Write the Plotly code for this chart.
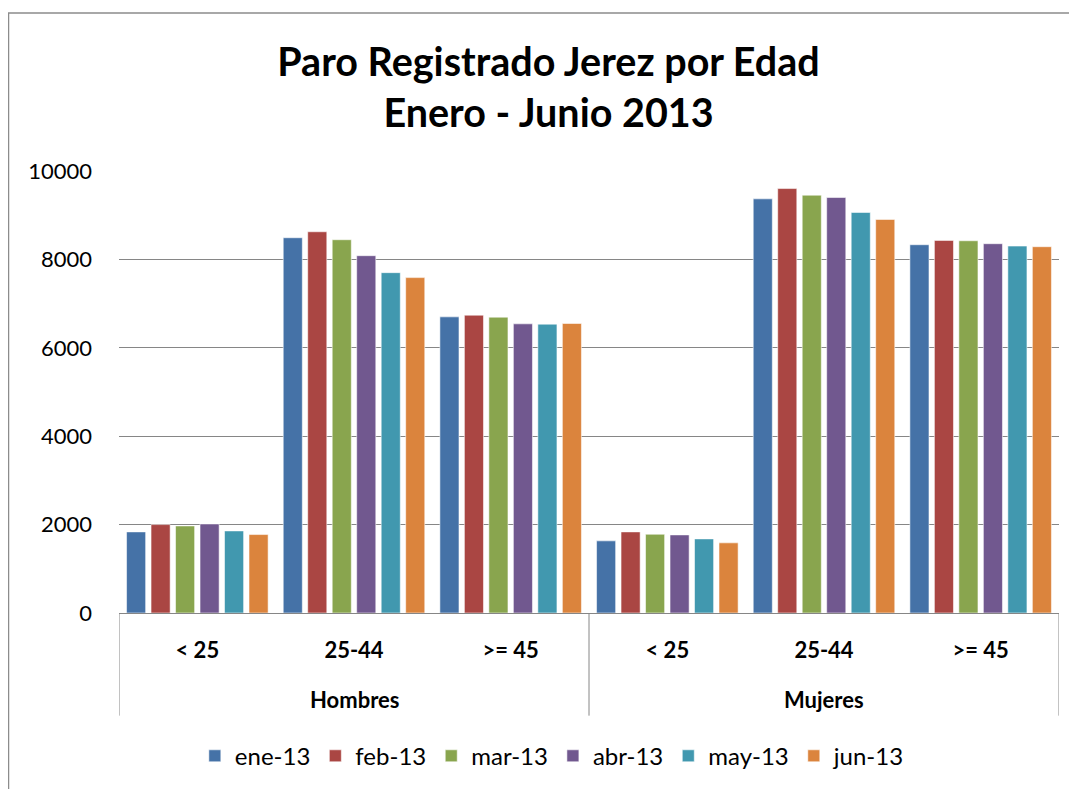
import plotly.graph_objects as go

sexes = ["Hombres", "Mujeres"]
ages = ["< 25", "25-44", ">= 45"]
months = ["ene-13", "feb-13", "mar-13", "abr-13", "may-13", "jun-13"]

# values per month: [H <25, H 25-44, H >=45, M <25, M 25-44, M >=45]
ene_13 = [1835, 8490, 6700, 1632, 9370, 8332]
feb_13 = [2000, 8625, 6738, 1835, 9603, 8430]
mar_13 = [1970, 8445, 6693, 1782, 9453, 8422]
abr_13 = [2015, 8084, 6542, 1767, 9400, 8355]
may_13 = [1857, 7700, 6535, 1677, 9062, 8302]
jun_13 = [1775, 7588, 6550, 1587, 8904, 8287]

series = [ene_13, feb_13, mar_13, abr_13, may_13, jun_13]
colors = ["#4572A7", "#AA4643", "#89A54E", "#71588F", "#4198AF", "#DB843D"]

# one unique category per (sex, age) pair; ticks show the age, annotations the sex
cats = [f"{s} | {a}" for s in sexes for a in ages]
inner_text = [a for _ in sexes for a in ages]

FONT = "Lato"
W, H = 1069, 781
L, T, R, B = 111, 163, 18, 174.5
PH = H - T - B  # plot height in px

fig = go.Figure()
for name, vals, col in zip(months, series, colors):
    fig.add_trace(go.Bar(
        x=cats, y=vals, name=name,
        marker=dict(color=col, line=dict(color="rgba(255,255,255,0.55)", width=1)),
    ))

fig.update_layout(
    width=W, height=H,
    paper_bgcolor="white", plot_bgcolor="white",
    margin=dict(l=L, r=R, t=T, b=B),
    barmode="group", bargap=0.062, bargroupgap=0.22,
    title=dict(text="<b>Paro Registrado Jerez por Edad<br>Enero - Junio 2013</b>",
               x=540.5 / W, xanchor="center", y=1 - 68 / H, yanchor="middle",
               font=dict(family=FONT, size=39.5, color="black")),
    font=dict(family=FONT, color="black"),
    legend=dict(orientation="h", x=0.461, xanchor="center", y=-0.321, yanchor="middle",
                font=dict(family=FONT, size=24, color="black"),
                itemclick=False, traceorder="normal"),
    showlegend=True,
)
fig.update_yaxes(range=[0, 10000], dtick=2000, tickformat="d", showgrid=True,
                 gridcolor="#868686", gridwidth=1, zeroline=False, showline=False,
                 tickfont=dict(family=FONT, size=22, color="black"),
                 ticklabelstandoff=26)
fig.update_xaxes(type="category", range=[-0.5, len(cats) - 0.5],
                 tickvals=cats, ticktext=inner_text,
                 showline=True, linecolor="#868686", linewidth=1,
                 ticks="", ticklabelstandoff=18, showgrid=False,
                 tickfont=dict(family=FONT, size=22, color="black", weight="bold"))

# group dividers and group (sex) labels below the axis
n = len(ages)
div_bottom = -(103) / PH
for i in range(len(sexes) + 1):
    fig.add_shape(type="line", xref="x", yref="paper",
                  x0=i * n - 0.5, x1=i * n - 0.5, y0=0, y1=div_bottom,
                  line=dict(color="#868686", width=1))
for i, s in enumerate(sexes):
    fig.add_annotation(x=i * n + (n - 1) / 2, xref="x", y=-(86.5) / PH, yref="paper",
                       text=f"<b>{s}</b>", showarrow=False, yanchor="middle",
                       font=dict(family=FONT, size=22, color="black"))

# outer chart border (top-left corner visible, rest runs off the picture)
fig.add_shape(type="rect", xref="paper", yref="paper",
              x0=(0.5 - L) / 940, x1=1.2, y0=-0.6, y1=(PH + T - 4.5) / PH,
              line=dict(color="#8c8c8c", width=1.5), fillcolor="rgba(0,0,0,0)", layer="below")

fig.write_html("out.html")
